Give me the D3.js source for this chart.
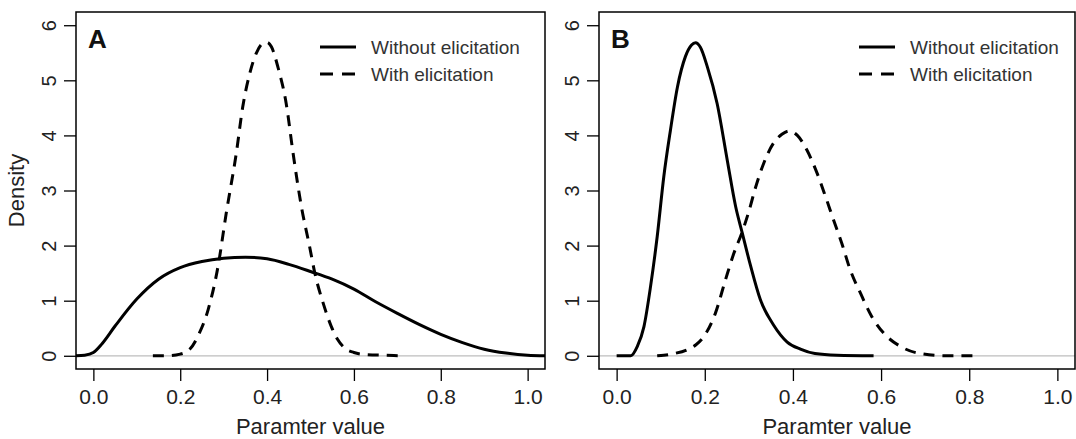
<!DOCTYPE html>
<html>
<head>
<meta charset="utf-8">
<script src="https://cdn.jsdelivr.net/npm/d3@7"></script>
<style>
  body { margin: 0; background: #fff; }
  svg { display: block; font-family: "Liberation Sans", Arial, sans-serif; }
</style>
</head>
<body>
<div id="chart"></div>
<script>
// density curves, [parameter value, density]
const aWithout = [
  [-0.04, 0.0], [-0.02, 0.01], [0.0, 0.06], [0.02, 0.22], [0.05, 0.54],
  [0.1, 1.03], [0.15, 1.39], [0.2, 1.6], [0.25, 1.71], [0.3, 1.77],
  [0.35, 1.79], [0.4, 1.76], [0.45, 1.66], [0.5, 1.53], [0.55, 1.39],
  [0.6, 1.21], [0.65, 0.98], [0.7, 0.77], [0.75, 0.57], [0.8, 0.39],
  [0.85, 0.24], [0.9, 0.12], [0.95, 0.05], [1.0, 0.01], [1.04, 0.0]
];
const aWith = [
  [0.137, 0.0], [0.17, 0.0], [0.2, 0.03], [0.221, 0.11], [0.244, 0.41],
  [0.264, 0.83], [0.287, 1.62], [0.306, 2.59], [0.329, 3.67], [0.344, 4.52],
  [0.36, 5.12], [0.375, 5.49], [0.39, 5.67], [0.4, 5.69], [0.41, 5.61],
  [0.425, 5.24], [0.444, 4.58], [0.46, 3.67], [0.479, 2.71], [0.498, 1.98],
  [0.51, 1.5], [0.529, 0.96], [0.548, 0.53], [0.563, 0.29], [0.58, 0.13],
  [0.6, 0.06], [0.63, 0.02], [0.67, 0.01], [0.712, 0.0]
];
const bWithout = [
  [0.0, 0.0], [0.032, 0.0], [0.047, 0.17], [0.062, 0.53], [0.077, 1.26],
  [0.092, 2.16], [0.107, 3.25], [0.122, 4.09], [0.138, 4.88], [0.156, 5.43],
  [0.17, 5.64], [0.179, 5.68], [0.19, 5.6], [0.206, 5.24], [0.228, 4.58],
  [0.251, 3.55], [0.27, 2.71], [0.285, 2.23], [0.304, 1.63], [0.326, 1.02],
  [0.356, 0.56], [0.387, 0.25], [0.417, 0.12], [0.45, 0.04], [0.5, 0.01],
  [0.583, 0.0]
];
const bWith = [
  [0.092, 0.0], [0.107, 0.01], [0.13, 0.04], [0.16, 0.11], [0.18, 0.2],
  [0.198, 0.35], [0.224, 0.77], [0.247, 1.38], [0.266, 1.86], [0.285, 2.25],
  [0.3, 2.62], [0.315, 3.05], [0.334, 3.5], [0.356, 3.86], [0.375, 4.02],
  [0.392, 4.08], [0.41, 4.0], [0.432, 3.73], [0.455, 3.31], [0.474, 2.89],
  [0.492, 2.47], [0.511, 2.04], [0.53, 1.56], [0.553, 1.14], [0.579, 0.71],
  [0.606, 0.41], [0.644, 0.17], [0.689, 0.04], [0.75, 0.0], [0.825, 0.0]
];

const xTicks = [0, 0.2, 0.4, 0.6, 0.8, 1.0];
const yTicks = [0, 1, 2, 3, 4, 5, 6];
const legendLabels = ['Without elicitation', 'With elicitation'];

const width = 1076, height = 439;
const plotTop = 12, plotBottom = 369;

const svg = d3.select('#chart')
  .append('svg')
  .attr('width', width)
  .attr('height', height);

function drawPanel(opts) {
  const x = d3.scaleLinear().domain([-0.04, 1.04]).range([opts.left, opts.right]);
  const y = d3.scaleLinear().domain([-0.24, 6.24]).range([plotBottom, plotTop]);
  const g = svg.append('g');

  const clipId = 'clip-' + opts.letter;
  g.append('clipPath').attr('id', clipId)
    .append('rect')
    .attr('x', opts.left).attr('y', plotTop)
    .attr('width', opts.right - opts.left).attr('height', plotBottom - plotTop);

  // zero reference line
  g.append('line')
    .attr('x1', opts.left).attr('x2', opts.right)
    .attr('y1', y(0)).attr('y2', y(0))
    .attr('stroke', '#bebebe')
    .attr('stroke-width', 1.2);

  const line = d3.line()
    .x(function(d) { return x(d[0]); })
    .y(function(d) { return y(d[1]); })
    .curve(d3.curveMonotoneX);

  const curves = g.append('g').attr('clip-path', 'url(#' + clipId + ')');
  curves.append('path')
    .attr('d', line(opts.without))
    .attr('fill', 'none')
    .attr('stroke', '#000')
    .attr('stroke-width', 3);
  curves.append('path')
    .attr('d', line(opts.with))
    .attr('fill', 'none')
    .attr('stroke', '#000')
    .attr('stroke-width', 3)
    .attr('stroke-dasharray', '11,8');

  // x axis
  const xAxis = g.append('g')
    .attr('transform', 'translate(0,' + plotBottom + ')')
    .call(d3.axisBottom(x).tickValues(xTicks).tickFormat(d3.format('.1f'))
      .tickSize(12).tickPadding(8));
  xAxis.select('.domain').remove();
  xAxis.selectAll('line').attr('stroke', '#000').attr('stroke-width', 1.3);
  xAxis.selectAll('text')
    .attr('font-size', 21)
    .attr('font-family', '"Liberation Sans", Arial, sans-serif')
    .attr('fill', '#222');

  // y axis, labels parallel to the axis
  const yAxis = g.append('g')
    .attr('transform', 'translate(' + opts.left + ',0)')
    .call(d3.axisLeft(y).tickValues(yTicks).tickFormat(d3.format('d')).tickSize(12));
  yAxis.select('.domain').remove();
  yAxis.selectAll('line').attr('stroke', '#000').attr('stroke-width', 1.3);
  yAxis.selectAll('text')
    .attr('transform', 'rotate(-90)')
    .attr('x', 0)
    .attr('y', -20)
    .attr('dy', 0)
    .attr('text-anchor', 'middle')
    .attr('font-size', 20)
    .attr('font-family', '"Liberation Sans", Arial, sans-serif')
    .attr('fill', '#222');

  // frame
  g.append('rect')
    .attr('x', opts.left).attr('y', plotTop)
    .attr('width', opts.right - opts.left).attr('height', plotBottom - plotTop)
    .attr('fill', 'none')
    .attr('stroke', '#000')
    .attr('stroke-width', 1.5);

  g.append('text')
    .attr('x', opts.left + 12)
    .attr('y', 48)
    .attr('font-size', 26)
    .attr('font-weight', 'bold')
    .attr('fill', '#111')
    .text(opts.letter);

  g.append('text')
    .attr('x', (opts.left + opts.right) / 2)
    .attr('y', 434)
    .attr('text-anchor', 'middle')
    .attr('font-size', 22)
    .attr('fill', '#222')
    .text('Paramter value');

  // legend
  const leg = g.append('g');
  legendLabels.forEach(function(label, i) {
    const ly = 47 + i * 27;
    leg.append('line')
      .attr('x1', opts.legendX).attr('x2', opts.legendX + 36)
      .attr('y1', ly).attr('y2', ly)
      .attr('stroke', '#000')
      .attr('stroke-width', 3)
      .attr('stroke-dasharray', i === 0 ? null : '13,9');
    leg.append('text')
      .attr('x', opts.legendX + 51)
      .attr('y', ly)
      .attr('dy', '0.36em')
      .attr('font-size', 19)
      .attr('fill', '#333')
      .text(label);
  });
}

drawPanel({ letter: 'A', left: 76, right: 545, legendX: 320, without: aWithout, with: aWith });
drawPanel({ letter: 'B', left: 599, right: 1075, legendX: 859, without: bWithout, with: bWith });

svg.append('text')
  .attr('transform', 'translate(24,' + ((plotTop + plotBottom) / 2) + ') rotate(-90)')
  .attr('text-anchor', 'middle')
  .attr('font-size', 22)
  .attr('fill', '#222')
  .text('Density');
</script>
</body>
</html>
